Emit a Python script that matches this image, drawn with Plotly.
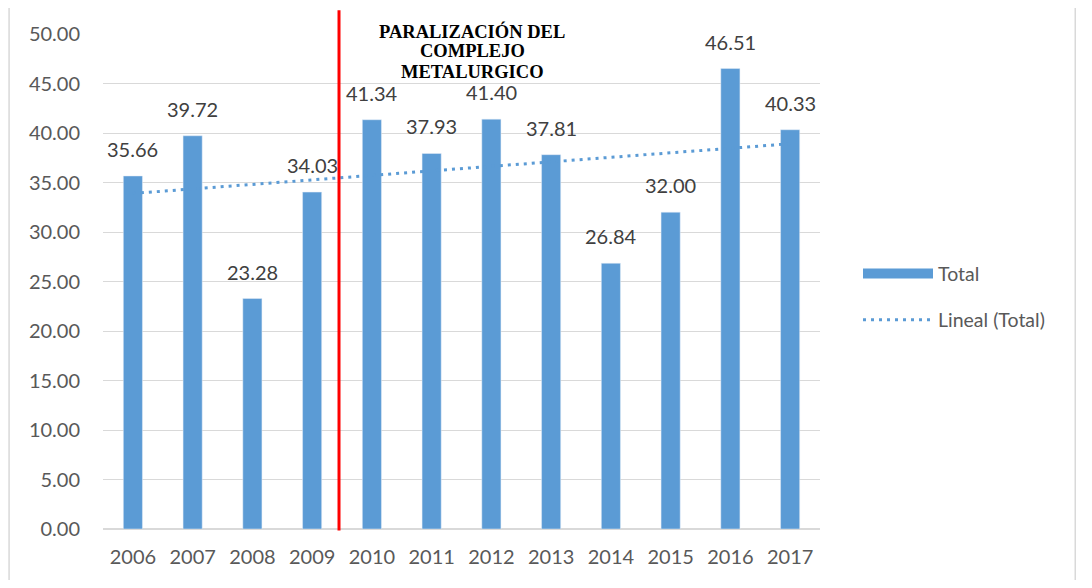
import numpy as np
import plotly.graph_objects as go

# años y valores de la serie Total
years = ['2006', '2007', '2008', '2009', '2010', '2011',
         '2012', '2013', '2014', '2015', '2016', '2017']
total = [35.66, 39.72, 23.28, 34.03, 41.34, 37.93,
         41.40, 37.81, 26.84, 32.00, 46.51, 40.33]
y_ticks = [0, 5, 10, 15, 20, 25, 30, 35, 40, 45, 50]
event_lines = ['PARALIZACIÓN DEL', 'COMPLEJO', 'METALURGICO']

BLUE = '#5B9BD5'
GREY = '#595959'

# linea de tendencia lineal (como la de Excel)
idx = np.arange(len(total))
slope, icpt = np.polyfit(idx, total, 1)
trend = slope * idx + icpt

fig = go.Figure()
fig.add_trace(go.Bar(x=years, y=total, name='Total', marker_color=BLUE,
                     showlegend=False))
# entrada de leyenda con rectangulo ancho, como en Excel
fig.add_trace(go.Scatter(x=[None], y=[None], mode='lines', name='Total',
                         line=dict(color=BLUE, width=13), legendgroup='a'))
fig.add_trace(go.Scatter(x=years, y=trend, mode='lines', name='Lineal (Total)',
                         line=dict(color=BLUE, width=3, dash='3px,5px'),
                         legendgroup='b'))

# etiquetas de datos encima de cada barra
for i, v in enumerate(total):
    fig.add_annotation(x=i, y=v, text=f'{v:.2f}', showarrow=False,
                       yanchor='bottom', yshift=13,
                       font=dict(family='Lato', size=20, color='#404040'))

# linea roja de la paralizacion, entre 2009 y 2010
fig.add_shape(type='line', xref='x', yref='paper', x0=3.45, x1=3.45,
              y0=-0.003, y1=1.048, line=dict(color='#FF0000', width=3))
for k, txt in enumerate(event_lines):
    fig.add_annotation(x=5.68, xref='x', y=1.006 - 0.041 * k, yref='paper',
                       yanchor='middle', text='<b>' + txt + '</b>',
                       showarrow=False, align='center',
                       font=dict(family='Liberation Serif', size=18.5,
                                 color='black'))

# marco exterior del grafico
fig.add_shape(type='rect', xref='paper', yref='paper', x0=-0.131, x1=1.356,
              y0=-0.2, y1=1.057, line=dict(color='#D9D9D9', width=1.5))

fig.update_layout(
    width=1076, height=572,
    margin=dict(l=95, r=264, t=26, b=51, autoexpand=False),
    paper_bgcolor='white', plot_bgcolor='white',
    bargap=0.68,
    font=dict(family='Lato', size=20, color=GREY),
    legend=dict(x=1.053, y=0.555, xanchor='left', yanchor='top',
                tracegroupgap=18, font=dict(size=19.5, color=GREY),
                itemwidth=70, bgcolor='rgba(0,0,0,0)'),
    showlegend=True,
)
fig.update_xaxes(type='category', showgrid=False, showline=False, ticks='',
                 ticklabelstandoff=14, tickfont=dict(size=20, color=GREY))
fig.update_yaxes(range=[0, 50], tickvals=y_ticks, tickformat='.2f',
                 showgrid=True, gridcolor='#D9D9D9', gridwidth=1.3,
                 zeroline=True, zerolinecolor='#D9D9D9', zerolinewidth=1.5,
                 ticks='', ticklabelstandoff=22,
                 tickfont=dict(size=20, color=GREY))

fig.write_html('out.html')
